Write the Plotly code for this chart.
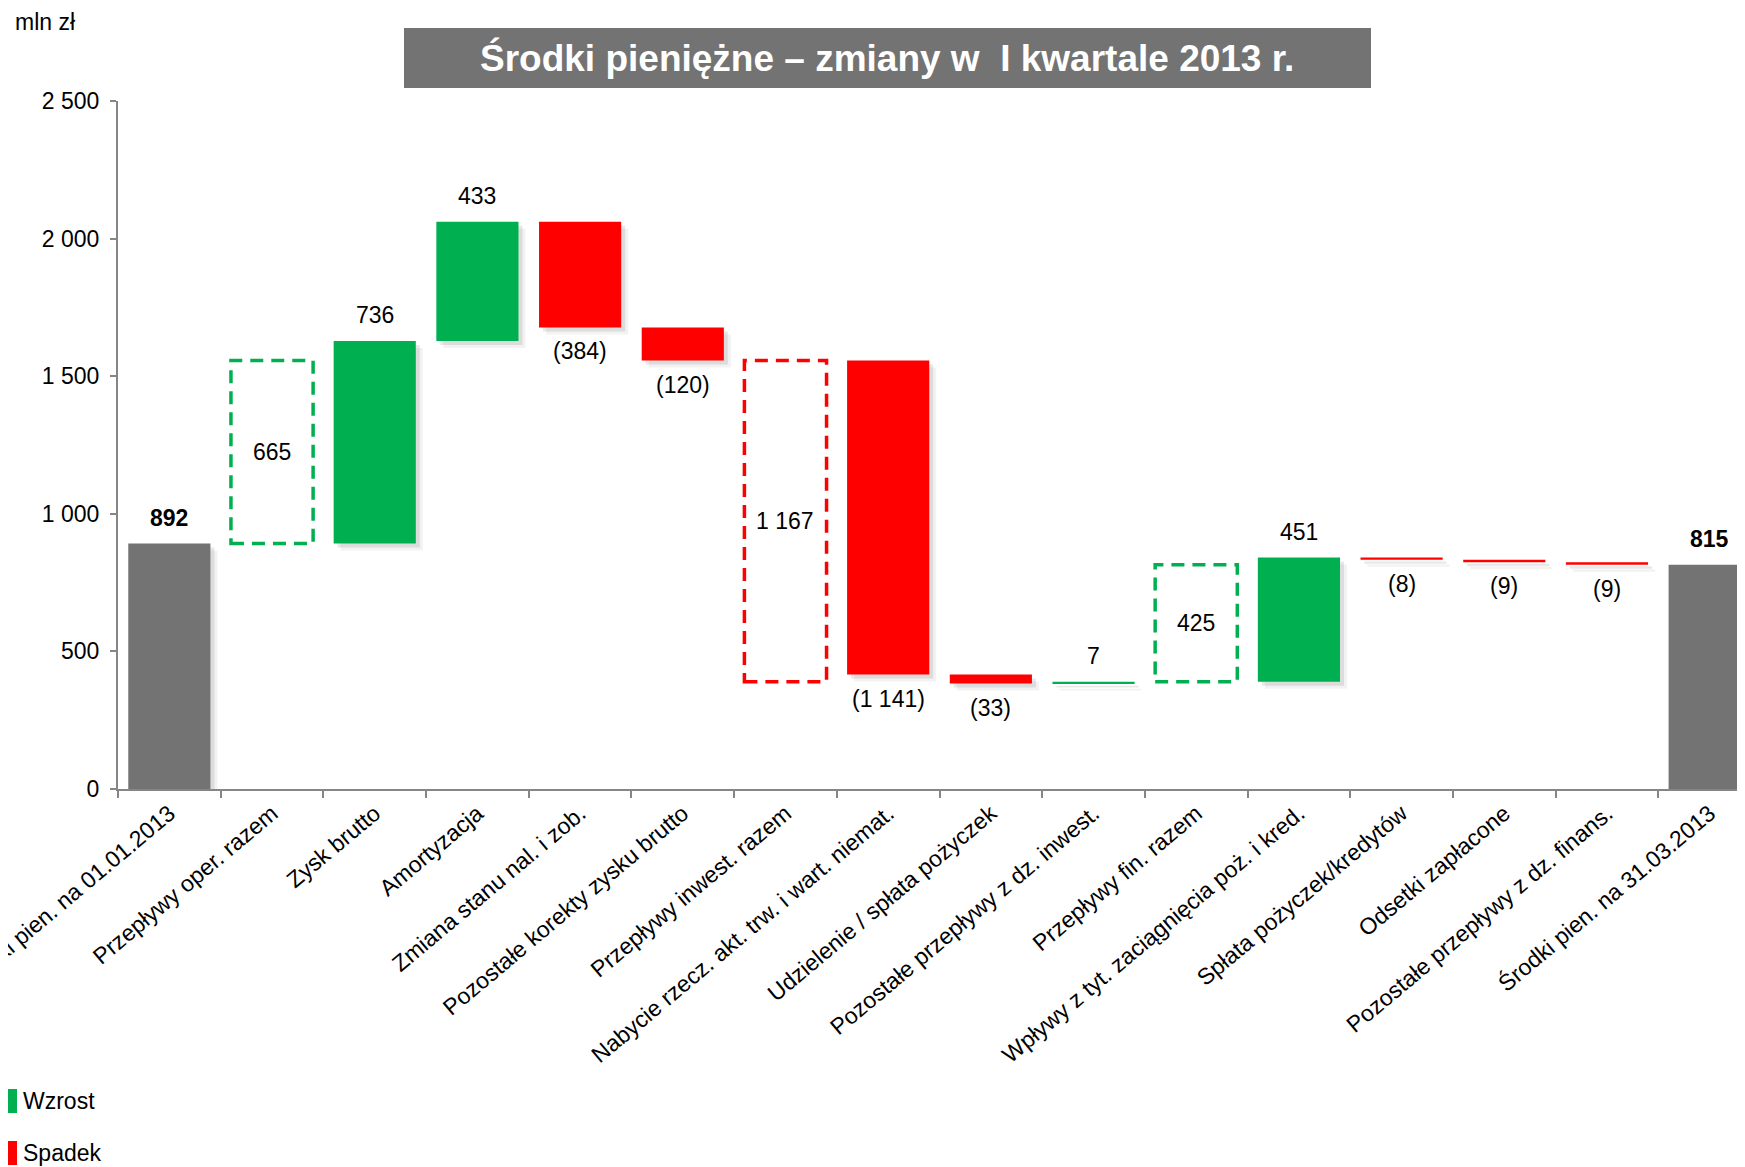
import plotly.graph_objects as go

categories = [
    "Środki pien. na 01.01.2013",
    "Przepływy oper. razem",
    "Zysk brutto",
    "Amortyzacja",
    "Zmiana stanu nal. i zob.",
    "Pozostałe korekty zysku brutto",
    "Przepływy inwest. razem",
    "Nabycie rzecz. akt. trw. i wart. niemat.",
    "Udzielenie / spłata pożyczek",
    "Pozostałe przepływy z dz. inwest.",
    "Przepływy fin. razem",
    "Wpływy z tyt. zaciągnięcia poż. i kred.",
    "Spłata pożyczek/kredytów",
    "Odsetki zapłacone",
    "Pozostałe przepływy z dz. finans.",
    "Środki pien. na 31.03.2013",
]
values = [892, 665, 736, 433, -384, -120, -1167, -1141, -33, 7, 425, 451, -8, -9, -9, 815]
kinds = ["total", "group", "up", "up", "down", "down", "group", "down", "down", "up",
         "group", "up", "down", "down", "down", "total"]
y_tickvals = [0, 500, 1000, 1500, 2000, 2500]
y_ticktext = ["0", "500", "1 000", "1 500", "2 000", "2 500"]

GREEN = "#00B050"
RED = "#FF0000"
GRAY = "#737373"
AXIS = "#868686"
FONT = "Liberation Sans, Arial, sans-serif"

OFF = 8  # page body margin
W, H = 1745 - OFF, 1167 - OFF
ML, MR, MT = 118 - OFF, 0, 101 - OFF
PLOT_BOTTOM = 789 - OFF
MB = H - PLOT_BOTTOM
PW = W - ML - MR
PH = H - MT - MB


def px(xp):
    return (xp - OFF - ML) / PW


def py(yp):
    return (PLOT_BOTTOM - (yp - OFF)) / PH


def fmt(v):
    return f"{abs(v):,}".replace(",", " ")


bottoms, heights, colors = [], [], []
level = 0
for v, k in zip(values, kinds):
    if k == "total":
        b, h = 0, v
        level = v
        c = GRAY
    elif k == "group":
        b, h = min(level, level + v), abs(v)
        c = GREEN if v > 0 else RED
    else:
        b, h = min(level, level + v), abs(v)
        level = level + v
        c = GREEN if v > 0 else RED
    bottoms.append(b)
    heights.append(h)
    colors.append(c)

fig = go.Figure()

bar_idx = [i for i, k in enumerate(kinds) if k != "group"]
bx = [categories[i] for i in bar_idx]
bb = [bottoms[i] for i in bar_idx]
bh = [heights[i] for i in bar_idx]
bc = [colors[i] for i in bar_idx]

BW = 0.8
XR = [-0.5, 15.344]
unit_px_x = PW / (XR[1] - XR[0])
unit_px_y = PH / 2500.0
for sh, op in [(7, 0.05), (4, 0.09)]:
    fig.add_trace(go.Bar(
        x=bx, y=bh, base=[b - sh / unit_px_y for b in bb],
        width=BW, offset=-BW / 2 + sh / unit_px_x,
        marker=dict(color=f"rgba(0,0,0,{op})", line=dict(width=0)),
        hoverinfo="skip", showlegend=False,
    ))

fig.add_trace(go.Bar(
    x=bx, y=bh, base=bb, width=BW, offset=-BW / 2,
    marker=dict(color=bc, line=dict(width=0)),
    showlegend=False,
))

shapes = []
annotations = []
for i, (v, k) in enumerate(zip(values, kinds)):
    b, h = bottoms[i], heights[i]
    if k == "group":
        shapes.append(dict(type="rect", xref="x", yref="y",
                           x0=i - BW / 2, x1=i + BW / 2, y0=b, y1=b + h,
                           line=dict(color=colors[i], width=3.5, dash="13px,8px"),
                           fillcolor="rgba(0,0,0,0)", layer="above"))
        annotations.append(dict(x=i, y=b + h / 2, xref="x", yref="y",
                                text=fmt(v), showarrow=False,
                                font=dict(size=23, color="black", family=FONT)))
    elif k == "total":
        annotations.append(dict(x=i, y=b + h, xref="x", yref="y",
                                text=f"<b>{fmt(v)}</b>", showarrow=False, yshift=26,
                                font=dict(size=23, color="black", family=FONT)))
    elif k == "up":
        annotations.append(dict(x=i, y=b + h, xref="x", yref="y",
                                text=fmt(v), showarrow=False, yshift=26,
                                font=dict(size=23, color="black", family=FONT)))
    else:
        annotations.append(dict(x=i, y=b, xref="x", yref="y",
                                text=f"({fmt(v)})", showarrow=False, yshift=-24,
                                font=dict(size=23, color="black", family=FONT)))

# title box
shapes.append(dict(type="rect", xref="paper", yref="paper",
                   x0=px(404), x1=px(1371), y0=py(88), y1=py(28),
                   fillcolor=GRAY, line=dict(width=0), layer="above"))
annotations.append(dict(xref="paper", yref="paper", x=px(887), y=py(58),
                        text="<b>Środki pieniężne – zmiany w\u00a0 I kwartale 2013 r.</b>",
                        showarrow=False, xanchor="center", yanchor="middle",
                        font=dict(size=37, color="white", family=FONT)))
# unit label
annotations.append(dict(xref="paper", yref="paper", x=px(13), y=py(22),
                        text="mln zł", showarrow=False, xanchor="left", yanchor="middle",
                        font=dict(size=23, color="black", family=FONT)))
# legend
for label, col, yc in [("Wzrost", GREEN, 1101), ("Spadek", RED, 1153)]:
    shapes.append(dict(type="rect", xref="paper", yref="paper",
                       x0=px(0), x1=px(17), y0=py(yc + 12), y1=py(yc - 12),
                       fillcolor=col, line=dict(width=0)))
    annotations.append(dict(xref="paper", yref="paper", x=px(21), y=py(yc),
                            text=label, showarrow=False, xanchor="left", yanchor="middle",
                            font=dict(size=23, color="black", family=FONT)))

fig.update_layout(
    width=W, height=H,
    margin=dict(l=ML, r=MR, t=MT, b=MB, autoexpand=False),
    paper_bgcolor="white", plot_bgcolor="rgba(0,0,0,0)",
    barmode="overlay",
    shapes=shapes, annotations=annotations,
    font=dict(family=FONT, size=23, color="black"),
    xaxis=dict(
        type="category", categoryorder="array", categoryarray=categories,
        range=XR, showgrid=False, zeroline=False,
        showline=True, linecolor=AXIS, linewidth=2,
        ticks="outside", tickson="boundaries", ticklen=7, tickwidth=2, tickcolor=AXIS,
        tickangle=-40, tickfont=dict(size=23, family=FONT, color="black"),
        automargin=False,
    ),
    yaxis=dict(
        range=[0, 2500], tickvals=y_tickvals, ticktext=y_ticktext,
        showgrid=False, zeroline=False, showline=True, linecolor=AXIS, linewidth=2,
        ticks="outside", ticklen=6, tickwidth=2, tickcolor=AXIS,
        tickfont=dict(size=23, family=FONT, color="black"), ticklabelstandoff=6,
        automargin=False,
    ),
)

fig.write_html("out.html")
